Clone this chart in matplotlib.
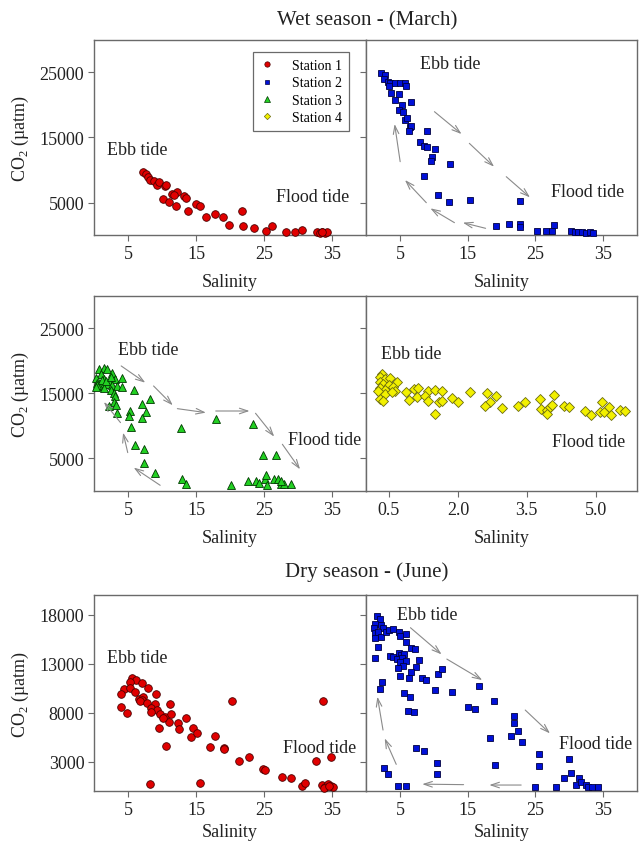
import matplotlib
matplotlib.use("Agg")
import matplotlib.pyplot as plt
from matplotlib.lines import Line2D

plt.rcParams['font.family'] = ['Liberation Serif', 'DejaVu Serif']
plt.rcParams['mathtext.fontset'] = 'custom'
plt.rcParams['mathtext.rm'] = 'Liberation Serif'

# Wet season, station 1
s1w_sal = [7.2, 7.7, 7.9, 8.3, 8.8, 9.2, 9.5, 10.4, 10.6, 10.1, 11.0, 12.0, 11.5, 12.2, 11.8, 13.3, 13.6, 13.8, 15.0, 15.6,
           16.4, 17.8, 19.0, 19.9, 21.7, 21.9, 23.5, 25.3, 26.2, 28.2, 29.6, 30.6, 32.8, 33.2, 33.6, 34.0, 34.3, 33.5]
s1w_co2 = [9640, 9380, 8870, 8500, 8350, 7690, 8100, 7490, 7690, 5540, 5030, 4510, 6300, 6660, 6150, 6050, 5640, 3740, 4770, 4510,
           2820, 3230, 2820, 1540, 3640, 1430, 1120, 570, 1430, 510, 510, 720, 400, 350, 450, 300, 400, 500]

# Wet season, station 2
s2w_sal = [2.16, 2.78, 2.64, 3.26, 3.6, 4.3, 5.0, 5.75, 5.85, 3.45, 3.74, 4.8, 4.3, 5.3, 6.6, 4.8, 5.5, 5.75, 6.1, 6.5,
           6.7, 6.3, 9.0, 7.9, 8.5, 9.0, 10.2, 9.8, 9.6, 12.4, 8.5, 10.6, 12.2, 15.4, 22.7, 19.2, 21.1, 22.7, 22.8, 25.3,
           26.6, 27.5, 27.7, 30.2, 30.8, 31.3, 31.9, 32.5, 33.0, 33.5]
s2w_co2 = [24870, 24610, 23940, 23580, 23330, 23430, 23430, 23430, 22920, 22920, 21890, 21690, 20760, 19990, 20510, 19230,
           18970, 17690, 17940, 16660, 16760, 16050, 16050, 14350, 13690, 13590, 13180, 12050, 11430, 10920, 9070, 6150,
           5130, 5380, 5280, 1380, 1690, 1690, 1280, 660, 660, 660, 1540, 600, 500, 400, 450, 350, 400, 300]

# Wet season, station 3
s3w_sal = [0.73, 1.46, 1.85, 0.97, 0.24, 0.39, 0.97, 1.46, 2.19, 2.68, 3.16, 4.1, 1.95, 2.68, 3.4, 4.1, 0.73, 1.46, 2.43, 2.92,
           3.16, 3.0, 3.3, 2.19, 3.4, 5.9, 8.3, 7.1, 5.35, 7.7, 5.1, 7.05, 5.45, 12.75, 18.0, 23.4, 6.1, 7.4, 7.4, 9.0,
           13.0, 13.5, 20.2, 22.7, 23.8, 24.2, 24.8, 26.8, 25.1, 25.3, 26.5, 27.0, 27.5, 28.0, 29.0, 25.5, 27.5,
           0.5, 1.2, 1.8, 0.3, 2.5]
s3w_co2 = [18710, 18970, 18820, 17940, 17430, 16560, 16660, 17170, 16920, 18200, 17280, 17430, 16400, 16250, 16150, 16050,
           16150, 15890, 15530, 15120, 14610, 13690, 13180, 13070, 11950, 15530, 14100, 13330, 12300, 12150, 11540, 11280,
           9840, 9740, 11020, 10250, 7070, 6510, 4360, 2820, 1790, 1030, 920, 1540, 1540, 1180, 5490, 5490, 1890, 2410,
           1790, 1890, 1130, 1130, 1030, 870, 1500, 16300, 17000, 16900, 16000, 17600]

# Wet season, station 4
s4w_sal = [0.34, 0.31, 0.41, 0.52, 0.67, 0.30, 0.38, 0.49, 0.59, 0.31, 0.41, 0.63, 0.33, 0.42, 0.31, 0.38, 0.56, 0.27, 0.88, 1.05,
           1.14, 0.94, 1.1, 1.34, 1.51, 1.66, 1.28, 1.34, 1.59, 1.66, 1.50, 1.88, 2.01, 2.26, 2.63, 2.69, 2.6, 2.82, 2.97, 3.31,
           3.46, 3.78, 4.09, 3.81, 3.93, 4.0, 4.05, 3.93, 4.31, 4.43, 4.76, 4.89, 5.14, 5.09, 5.18, 5.30, 5.34, 5.54, 5.64]
s4w_co2 = [17990, 17480, 17230, 17330, 16710, 16710, 16460, 16300, 15940, 15790, 15590, 15430, 14920, 14920, 14150, 13890,
           15170, 15430, 15280, 15690, 15790, 14000, 14510, 15430, 15590, 15380, 14660, 13890, 13740, 13890, 11840, 14300,
           13640, 15280, 15070, 13740, 13030, 14560, 12720, 13030, 13740, 14150, 14770, 12610, 12460, 12870, 13230, 11840,
           13130, 12870, 12350, 11690, 13740, 12200, 12150, 12870, 11690, 12410, 12360]

# Dry season, station 1
s1d_sal = [5.6, 6.2, 5.35, 7.05, 4.48, 5.26, 6.08, 8.0, 4.0, 9.15, 6.57, 7.2, 7.05, 6.7, 7.8, 9.0, 11.2, 8.37, 9.25, 8.37,
           9.73, 10.46, 11.3, 11.1, 10.2, 4.0, 4.87, 9.5, 12.4, 12.46, 13.6, 14.6, 14.26, 15.1, 10.6, 17.0, 17.8, 19.1, 19.1, 20.3,
           21.3, 22.8, 24.8, 25.1, 27.7, 29.0, 30.6, 31.1, 32.7, 33.7, 34.9, 8.2, 15.6, 33.5, 34.0, 34.4, 34.8, 35.2, 33.8, 34.6]
s1d_co2 = [11490, 11320, 11080, 10980, 10400, 10470, 10130, 10540, 9860, 9860, 9380, 9620, 9280, 9180, 8940, 8840, 8840, 8430,
           8260, 8090, 7820, 7580, 7820, 7010, 7480, 8600, 7920, 6390, 6970, 6320, 7410, 6390, 5540, 5880, 4590, 4520, 5640,
           4420, 4320, 9210, 3090, 3500, 2240, 2180, 1460, 1360, 510, 780, 3090, 9180, 3440, 680, 780, 600, 400, 700, 500,
           450, 350, 550]

# Dry season, station 2
s2d_sal = [1.68, 2.02, 1.39, 2.17, 2.51, 1.19, 1.29, 1.78, 1.29, 2.27, 3.0, 3.34, 3.98, 4.81, 4.95, 5.93, 5.93, 1.78, 6.67, 7.3,
           1.39, 3.49, 3.98, 4.81, 5.2, 5.6, 4.61, 5.3, 5.93, 4.95, 5.44, 4.71, 7.4, 7.88, 6.57, 4.95, 6.3, 8.23, 8.86, 10.56,
           11.15, 2.4, 2.06, 10.17, 12.76, 5.59, 6.42, 6.17, 7.05, 15.03, 16.15, 18.84, 16.64, 21.86, 21.86, 22.5, 21.38, 23.0,
           18.25, 19.08, 25.6, 25.6, 30.0, 7.4, 8.6, 10.46, 10.46, 2.66, 3.29, 4.76, 5.9, 25.0, 28.1, 29.2, 30.2, 31.5, 31.0,
           31.8, 32.5, 32.7, 33.4, 34.2]
s2d_co2 = [17880, 17540, 17000, 16930, 16660, 16590, 16080, 16250, 15640, 15740, 16250, 16420, 16520, 16250, 15840, 15980,
           15230, 14720, 14550, 14450, 13530, 13800, 13700, 14040, 13870, 13940, 13460, 13530, 13260, 13190, 12780, 12580,
           12680, 13360, 12110, 11760, 11560, 11560, 11320, 11900, 12440, 11090, 10400, 10300, 10130, 9960, 9620, 8190,
           8030, 8600, 8360, 9180, 10740, 7680, 6900, 6120, 5640, 5030, 5370, 2650, 3740, 2580, 3260, 4420, 4080, 2820,
           1700, 2310, 1700, 540, 540, 440, 440, 1290, 1800, 1290, 610, 880, 610, 440, 440, 440]

# tidal direction arrows (x0, y0, x1, y1) in data units
arrows_2w = [(10.1, 18970, 14.1, 15530), (15.25, 14100, 18.9, 10510), (20.7, 8970, 24.2, 5790),
             (17.65, 1030, 14.3, 1900), (13.05, 1900, 9.5, 4100), (8.9, 4970, 5.75, 8460), (5.04, 11280, 4.22, 17070)]
arrows_3w = [(4.0, 19230, 7.54, 16660), (8.76, 16150, 11.58, 13180), (12.26, 12660, 16.45, 12050),
             (17.9, 12300, 22.87, 12300), (23.75, 11950, 26.5, 8360), (27.7, 7180, 30.3, 3330),
             (9.73, 870, 5.84, 3590), (4.96, 5900, 4.28, 8970), (3.9, 10510, 1.46, 13690)]
arrows_2d = [(6.56, 16660, 11.15, 13940), (11.93, 13460, 17.15, 11320), (23.5, 8260, 27.15, 5880),
             (22.9, 610, 18.2, 610), (14.4, 650, 8.3, 700), (4.46, 2720, 2.76, 5370), (2.51, 6220, 1.68, 9620)]

colors = {1: ('#e00000', '#4a0000', 'o', 5.5),
          2: ('#0010d8', '#000040', 's', 4.6),
          3: ('#22d022', '#003800', '^', 5.8),
          4: ('#f2f000', '#6a6a10', 'D', 4.6)}

fig = plt.figure(figsize=(6.39, 8.45), dpi=100)
lx, lw = 0.1471, 0.4257
rx, rw = 0.5728, 0.4241
rows = [(0.7207, 0.2308), (0.4178, 0.2308), (0.0627, 0.2320)]


def style(ax, left, pad):
    for sp in ax.spines.values():
        sp.set_color('#6a6a6a')
        sp.set_linewidth(1.0)
    ax.tick_params(direction='out', length=4, width=0.8, color='#6a6a6a',
                   labelsize=13, pad=3, labelcolor='#222222')
    ax.set_xlabel('Salinity', fontsize=13, labelpad=pad, color='#222222')
    if left:
        ax.set_ylabel(r'CO$_\mathregular{2}$ (µatm)', fontsize=13, labelpad=6, color='#222222')
    else:
        ax.tick_params(axis='y', labelleft=False)


def scatter(ax, x, y, st):
    c, ec, m, ms = colors[st]
    ax.plot(x, y, ls='none', marker=m, color=c, mec=ec, mew=0.6, ms=ms, clip_on=False, zorder=3)


def draw_arrows(ax, arrs):
    for x0, y0, x1, y1 in arrs:
        ax.annotate('', xy=(x1, y1), xytext=(x0, y0),
                    arrowprops=dict(arrowstyle='->,head_length=0.6,head_width=0.2',
                                    color='#8a8a8a', lw=0.8, shrinkA=0, shrinkB=0))


def tide_labels(ax, ebb, flood):
    ax.text(ebb[0], ebb[1], 'Ebb tide', fontsize=13, va='center', ha='left', color='#222222')
    ax.text(flood[0], flood[1], 'Flood tide', fontsize=13, va='center', ha='left', color='#222222')


# row 1 - wet season
ax1 = fig.add_axes([lx, rows[0][0], lw, rows[0][1]])
ax2 = fig.add_axes([rx, rows[0][0], rw, rows[0][1]])
# row 2 - wet season
ax3 = fig.add_axes([lx, rows[1][0], lw, rows[1][1]])
ax4 = fig.add_axes([rx, rows[1][0], rw, rows[1][1]])
# row 3 - dry season
ax5 = fig.add_axes([lx, rows[2][0], lw, rows[2][1]])
ax6 = fig.add_axes([rx, rows[2][0], rw, rows[2][1]])

scatter(ax1, s1w_sal, s1w_co2, 1)
scatter(ax2, s2w_sal, s2w_co2, 2)
scatter(ax3, s3w_sal, s3w_co2, 3)
scatter(ax4, s4w_sal, s4w_co2, 4)
scatter(ax5, s1d_sal, s1d_co2, 1)
scatter(ax6, s2d_sal, s2d_co2, 2)

draw_arrows(ax2, arrows_2w)
draw_arrows(ax3, arrows_3w)
draw_arrows(ax6, arrows_2d)

for ax in (ax1, ax2, ax3, ax5, ax6):
    ax.set_xlim(0, 40)
    ax.set_xticks([5, 15, 25, 35])
for ax in (ax1, ax2, ax3, ax4):
    ax.set_ylim(0, 30000)
    ax.set_yticks([5000, 15000, 25000])
for ax in (ax5, ax6):
    ax.set_ylim(0, 20000)
    ax.set_yticks([3000, 8000, 13000, 18000])
ax4.set_xlim(0, 5.9)
ax4.set_xticks([0.5, 2.0, 3.5, 5.0])
ax4.set_xticklabels(['0.5', '2.0', '3.5', '5.0'])

for ax, left, pad in ((ax1, True, 8), (ax2, False, 8), (ax3, True, 8), (ax4, False, 8),
                      (ax5, True, 4), (ax6, False, 4)):
    style(ax, left, pad)

tide_labels(ax1, (1.9, 13230), (26.7, 6000))
tide_labels(ax2, (7.9, 26400), (27.3, 6660))
tide_labels(ax3, (3.5, 21790), (28.5, 7840))
tide_labels(ax4, (0.32, 21070), (4.04, 7590))
tide_labels(ax5, (1.95, 13600), (27.8, 4420))
tide_labels(ax6, (4.6, 18020), (28.5, 4870))

handles = []
for st in (1, 2, 3, 4):
    c, ec, m, ms = colors[st]
    handles.append(Line2D([], [], ls='none', marker=m, color=c, mec=ec, mew=0.5, ms=ms * 0.7))
leg = ax1.legend(handles, ['Station 1', 'Station 2', 'Station 3', 'Station 4'],
                 loc='upper right', bbox_to_anchor=(0.963, 0.972), fontsize=10,
                 frameon=True, fancybox=False, edgecolor='#6a6a6a', framealpha=1,
                 handlelength=1.0, handletextpad=1.3, labelspacing=0.3, borderpad=0.5)
leg.get_frame().set_linewidth(0.9)

fig.text(367 / 639, 1 - 21 / 845, 'Wet season - (March)', ha='center', va='center', fontsize=15, color='#222222')
fig.text(367 / 639, 1 - 572 / 845, 'Dry season - (June)', ha='center', va='center', fontsize=15, color='#222222')

fig.savefig('out.png', dpi=100)
